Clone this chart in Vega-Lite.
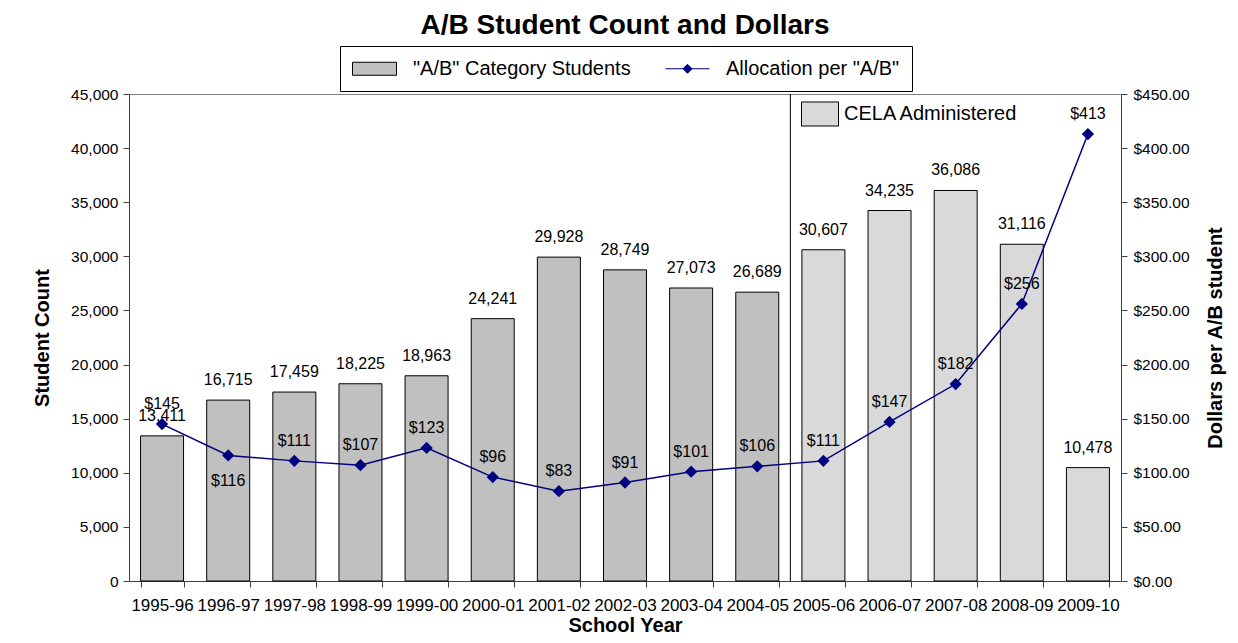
{
  "$schema": "https://vega.github.io/schema/vega-lite/v6.json",
  "width": 992,
  "height": 487,
  "autosize": "none",
  "padding": {"left": 129, "top": 94, "right": 117, "bottom": 62},
  "background": "white",
  "config": {
    "font": "Liberation Sans",
    "view": {"stroke": "#808080", "strokeWidth": 1},
    "axis": {
      "grid": false,
      "domainColor": "#404040",
      "tickColor": "#404040",
      "tickSize": 6,
      "labelColor": "black",
      "titleColor": "black",
      "titleFontWeight": "bold",
      "titleFontSize": 20,
      "labelFont": "Liberation Sans",
      "titleFont": "Liberation Sans"
    },
    "legend": {"labelFont": "Liberation Sans"}
  },
  "title": {
    "text": "A/B Student Count and Dollars",
    "fontSize": 28,
    "fontWeight": "bold",
    "color": "black",
    "anchor": "middle",
    "frame": "group",
    "offset": 6
  },
  "data": {
    "values": [
      {"year": "1995-96", "count": 13411, "dollars": 145, "admin": "Regular"},
      {"year": "1996-97", "count": 16715, "dollars": 116, "admin": "Regular"},
      {"year": "1997-98", "count": 17459, "dollars": 111, "admin": "Regular"},
      {"year": "1998-99", "count": 18225, "dollars": 107, "admin": "Regular"},
      {"year": "1999-00", "count": 18963, "dollars": 123, "admin": "Regular"},
      {"year": "2000-01", "count": 24241, "dollars": 96, "admin": "Regular"},
      {"year": "2001-02", "count": 29928, "dollars": 83, "admin": "Regular"},
      {"year": "2002-03", "count": 28749, "dollars": 91, "admin": "Regular"},
      {"year": "2003-04", "count": 27073, "dollars": 101, "admin": "Regular"},
      {"year": "2004-05", "count": 26689, "dollars": 106, "admin": "Regular"},
      {"year": "2005-06", "count": 30607, "dollars": 111, "admin": "CELA Administered"},
      {"year": "2006-07", "count": 34235, "dollars": 147, "admin": "CELA Administered"},
      {"year": "2007-08", "count": 36086, "dollars": 182, "admin": "CELA Administered"},
      {"year": "2008-09", "count": 31116, "dollars": 256, "admin": "CELA Administered"},
      {"year": "2009-10", "count": 10478, "dollars": 413, "admin": "CELA Administered"}
    ]
  },
  "encoding": {
    "x": {
      "field": "year",
      "type": "ordinal",
      "scale": {"paddingInner": 0.35, "paddingOuter": 0.175},
      "axis": {
        "title": "School Year",
        "labelAngle": 0,
        "tickBand": "extent",
        "labelFontSize": 17,
        "labelPadding": 10,
        "labelOverlap": false,
        "titlePadding": 2
      }
    }
  },
  "layer": [
    {
      "layer": [
        {
          "mark": {"type": "bar", "stroke": "black", "strokeWidth": 1},
          "encoding": {
            "y": {
              "field": "count",
              "type": "quantitative",
              "scale": {"domain": [0, 45000], "nice": false},
              "axis": {
                "title": "Student Count",
                "values": [0, 5000, 10000, 15000, 20000, 25000, 30000, 35000, 40000, 45000],
                "format": ",d",
                "labelFontSize": 15.5,
                "labelPadding": 5,
                "titlePadding": 18
              }
            },
            "fill": {
              "field": "admin",
              "type": "nominal",
              "scale": {"domain": ["Regular", "CELA Administered"], "range": ["#c0c0c0", "#d9d9d9"]},
              "legend": {
                "title": null,
                "orient": "none",
                "legendX": 672,
                "legendY": 1,
                "values": ["CELA Administered"],
                "symbolType": "M-1,-0.65H1V0.65H-1Z",
                "symbolSize": 1369,
                "symbolStrokeColor": "black",
                "symbolStrokeWidth": 1,
                "labelFontSize": 20,
                "labelColor": "black",
                "labelOffset": 5,
                "labelLimit": 400,
                "padding": 0
              }
            }
          }
        },
        {
          "mark": {"type": "text", "baseline": "middle", "dy": -20, "fontSize": 16, "color": "black"},
          "encoding": {
            "y": {"field": "count", "type": "quantitative"},
            "text": {"field": "count", "type": "quantitative", "format": ",d"}
          }
        },
        {
          "transform": [{"filter": "datum.year == '2004-05'"}],
          "mark": {"type": "rule", "color": "black", "strokeWidth": 1},
          "encoding": {
            "x": {"field": "year", "type": "ordinal", "bandPosition": 1.27}
          }
        }
      ]
    },
    {
      "layer": [
        {
          "mark": {"type": "line", "strokeWidth": 1.5},
          "encoding": {
            "y": {
              "field": "dollars",
              "type": "quantitative",
              "scale": {"domain": [0, 450], "nice": false},
              "axis": {
                "orient": "right",
                "title": "Dollars per A/B student",
                "titleAngle": 270,
                "values": [0, 50, 100, 150, 200, 250, 300, 350, 400, 450],
                "format": "$,.2f",
                "labelFontSize": 15.5,
                "labelPadding": 6,
                "titlePadding": 36
              }
            },
            "stroke": {
              "datum": "Allocation per \"A/B\"",
              "type": "nominal",
              "scale": {"domain": ["\"A/B\" Category Students", "Allocation per \"A/B\""], "range": ["#000000", "#000080"]},
              "legend": {
                "title": null,
                "orient": "none",
                "legendX": 211,
                "legendY": -48,
                "direction": "horizontal",
                "strokeColor": "black",
                "fillColor": "white",
                "padding": 12,
                "symbolSize": 400,
                "symbolOffset": 12,
                "symbolStrokeWidth": 1,
                "labelFontSize": 20,
                "labelColor": "black",
                "labelOffset": 28,
                "labelLimit": 400,
                "columnPadding": 32,
                "encode": {
                  "symbols": {
                    "update": {
                      "shape": {"signal": "indexof(datum.value, 'Alloc') >= 0 ? 'M-2.2,0H2.2M0,-0.45L0.45,0L0,0.45L-0.45,0Z' : 'M-2.2,-0.65H2.2V0.65H-2.2Z'"},
                      "fill": {"signal": "indexof(datum.value, 'Alloc') >= 0 ? '#000080' : '#c0c0c0'"},
                      "stroke": {"signal": "indexof(datum.value, 'Alloc') >= 0 ? '#000080' : '#000000'"},
                      "opacity": {"value": 1}
                    }
                  }
                }
              }
            }
          }
        },
        {
          "mark": {"type": "point", "shape": "diamond", "filled": true, "fill": "#000080", "stroke": "#000080", "size": 90, "opacity": 1},
          "encoding": {
            "y": {"field": "dollars", "type": "quantitative"}
          }
        },
        {
          "transform": [{"filter": "datum.year != '1996-97'"}],
          "mark": {"type": "text", "baseline": "middle", "dy": -20, "fontSize": 16, "color": "black"},
          "encoding": {
            "y": {"field": "dollars", "type": "quantitative"},
            "text": {"field": "dollars", "type": "quantitative", "format": "$,d"}
          }
        },
        {
          "transform": [{"filter": "datum.year == '1996-97'"}],
          "mark": {"type": "text", "baseline": "middle", "dy": 26, "fontSize": 16, "color": "black"},
          "encoding": {
            "y": {"field": "dollars", "type": "quantitative"},
            "text": {"field": "dollars", "type": "quantitative", "format": "$,d"}
          }
        }
      ]
    }
  ],
  "resolve": {"scale": {"y": "independent"}}
}
